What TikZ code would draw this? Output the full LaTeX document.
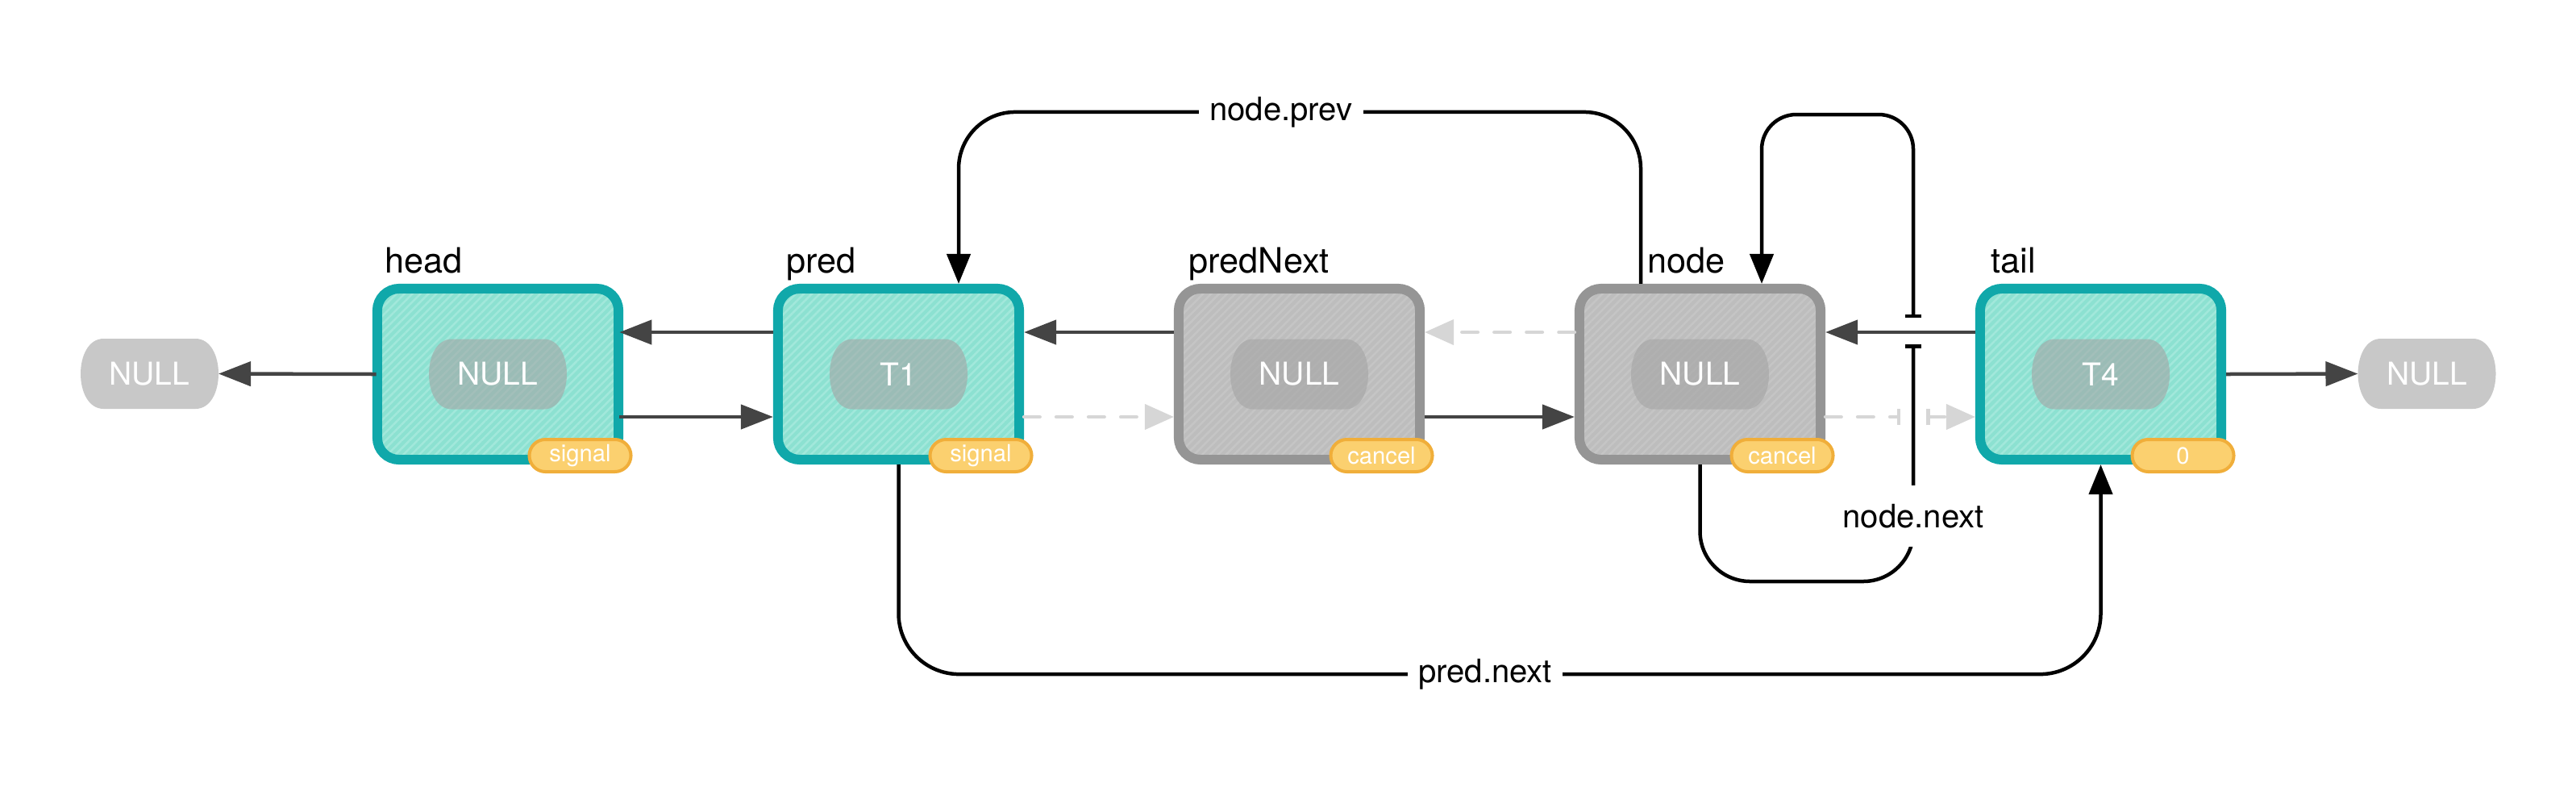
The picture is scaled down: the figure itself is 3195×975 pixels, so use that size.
\documentclass[tikz,border=0pt]{standalone}
\usepackage{fontspec}
\setmainfont{TeX Gyre Heros}
\usetikzlibrary{arrows.meta,shapes.misc,patterns.meta,calc}
\definecolor{tealB}{HTML}{10A8AA}
\definecolor{tealF}{HTML}{8CE1D1}
\definecolor{tealS}{HTML}{A2E8DB}
\definecolor{grayB}{HTML}{959595}
\definecolor{grayF}{HTML}{BDBDBD}
\definecolor{grayS}{HTML}{C5C5C5}
\definecolor{pillG}{HTML}{A4A4A4}
\definecolor{nullG}{HTML}{C8C8C8}
\definecolor{badgeB}{HTML}{F0AE3A}
\definecolor{badgeF}{HTML}{FBD06F}
\definecolor{darkA}{HTML}{444444}
\definecolor{lightA}{HTML}{D6D6D6}
\newcommand\lblfnt{\fontsize{11.4pt}{13pt}\selectfont}
\newcommand\namefnt{\fontsize{12.3pt}{14pt}\selectfont}
\newcommand\pillfnt{\fontsize{11.1pt}{13pt}\selectfont}
\newcommand\badgefnt{\fontsize{8.3pt}{10pt}\selectfont}
% pill outline with flattened ends, centred at (#1,#2), drawn with options #3
\newcommand\pillbg[3]{\path[#3] (#1-57,#2-43.5) -- (#1+57,#2-43.5)
  .. controls (#1+95,#2-43.5) and (#1+95,#2+43.5) .. (#1+57,#2+43.5)
  -- (#1-57,#2+43.5)
  .. controls (#1-95,#2+43.5) and (#1-95,#2-43.5) .. (#1-57,#2-43.5) -- cycle;}
\begin{document}
\begin{tikzpicture}[x=0.01cm,y=-0.01cm,
  dtip/.tip={Triangle[length=0.40cm,width=0.30cm]},
  ltip/.tip={Triangle[length=0.36cm,width=0.31cm]},
  ktip/.tip={Triangle[length=0.37cm,width=0.29cm]},
  jbar/.tip={Bar[width=0.20cm]},
  listbox/.style={rectangle, rounded corners=0.27cm, minimum width=2.99cm,
    minimum height=2.12cm, line width=0.12cm, inner sep=0pt},
  livebox/.style={listbox, draw=tealB, preaction={fill=tealF},
    pattern={Lines[angle=45,distance=0.07cm,line width=0.025cm]}, pattern color=tealS},
  deadbox/.style={listbox, draw=grayB, preaction={fill=grayF},
    pattern={Lines[angle=45,distance=0.07cm,line width=0.025cm]}, pattern color=grayS},
  inpillfill/.style={fill=pillG, fill opacity=0.6},
  nullfill/.style={fill=nullG},
  pilltxt/.style={rectangle, minimum width=1.71cm, minimum height=0.87cm,
    inner sep=0pt, outer sep=0pt, text=white, font=\pillfnt},
  badge/.style={rounded rectangle, minimum width=1.26cm, minimum height=0.40cm,
    inner sep=0pt, line width=0.04cm, draw=badgeB, fill=badgeF,
    text=white, font=\badgefnt},
  namelbl/.style={anchor=base west, font=\namefnt, inner sep=0pt},
  ptrlbl/.style={fill=white, font=\lblfnt, inner xsep=0.13cm, inner ysep=0.23cm},
  darr/.style={draw=darkA, line width=0.045cm, -dtip},
  larr/.style={draw=lightA, line width=0.045cm, dash pattern=on 0.195cm off 0.205cm,
    line cap=round, -ltip},
  blk/.style={draw=black, line width=0.045cm}
]
\useasboundingbox (0,0) rectangle (3195,975);

% list nodes
\node[livebox] (head) at (617.5,464) {};
\node[livebox] (pred) at (1114.5,464) {};
\node[deadbox] (predNext) at (1611.5,464) {};
\node[deadbox] (nd) at (2108.5,464) {};
\node[livebox] (tail) at (2605.5,464) {};

% values
\pillbg{617.5}{464}{inpillfill}
\pillbg{1114.5}{464}{inpillfill}
\pillbg{1611.5}{464}{inpillfill}
\pillbg{2108.5}{464}{inpillfill}
\pillbg{2605.5}{464}{inpillfill}
\node[pilltxt] (headv) at (head.center) {NULL};
\node[pilltxt] (predv) at (pred.center) {T1};
\node[pilltxt] (predNextv) at (predNext.center) {NULL};
\node[pilltxt] (ndv) at (nd.center) {NULL};
\node[pilltxt] (tailv) at (tail.center) {T4};

% status badges
\node[badge] (headb) at ($(head.center)+(102,101)$) {signal};
\node[badge] (predb) at ($(pred.center)+(102,101)$) {signal};
\node[badge] (predNextb) at ($(predNext.center)+(102,101)$) {cancel};
\node[badge] (ndb) at ($(nd.center)+(102,101)$) {cancel};
\node[badge] (tailb) at ($(tail.center)+(102,101)$) {0};

% NULL ends
\pillbg{185.5}{463.5}{nullfill}
\pillbg{3010}{463.5}{nullfill}
\node[pilltxt] (nullL) at (185.5,463.5) {NULL};
\node[pilltxt] (nullR) at (3010,463.5) {NULL};

% names
\node[namelbl] (headl) at (477,338) {head};
\node[namelbl] (predl) at (975,338) {pred};
\node[namelbl] (predNextl) at (1474,338) {predNext};
\node[namelbl] (ndl) at (2043,338) {node};
\node[namelbl] (taill) at (2469,338) {tail};

% horizontal links
\draw[darr] (head.west) -- (nullL.east);
\draw[darr] ($(pred.west)+(0,-52)$) -- ($(head.east)+(0,-52)$);
\draw[darr] ($(head.east)+(0,53)$) -- ($(pred.west)+(0,53)$);
\draw[darr] ($(predNext.west)+(0,-52)$) -- ($(pred.east)+(0,-52)$);
\draw[larr] ($(pred.east)+(0,53)$) -- ($(predNext.west)+(0,53)$);
\draw[larr] ($(nd.west)+(0,-52)$) -- ($(predNext.east)+(0,-52)$);
\draw[darr] ($(predNext.east)+(0,53)$) -- ($(nd.west)+(0,53)$);
\draw[darr] ($(tail.west)+(0,-52)$) -- ($(nd.east)+(0,-52)$);
\coordinate (jl) at (2357,517);
\coordinate (jr) at (2389,517);
\draw[larr, -jbar] ($(nd.east)+(0,53)$) -- (jl);
\draw[larr, jbar-ltip] (jr) -- ($(tail.west)+(0,53)$);
\draw[darr] (tail.east) -- (nullR.west);

% node.prev
\draw[blk, rounded corners=0.7cm, -ktip] ($(nd.north)+(-73.5,0)$) -- ++(0,-213) -| ($(pred.north)+(74.5,0)$);
\node[ptrlbl] (prevl) at (1589,139) {node.prev};

% pred.next
\draw[blk, rounded corners=0.75cm, -ktip] (pred.south) -- ++(0,260) -| (tail.south);
\node[ptrlbl] (predNextLbl) at (1842,836) {pred.next};

% node.next (self loop, jumping over tail->node link)
\coordinate (nxlow) at (2373,721);
\coordinate (nxA) at (2373,427);
\coordinate (nxB) at (2373,394);
\coordinate (nxtop) at (2373,142);
\draw[blk, rounded corners=0.62cm, -jbar] (nd.south) |- (nxlow) -- (nxA);
\node[ptrlbl] (nextl) at (2373,640) {node.next};
\draw[blk, rounded corners=0.43cm, jbar-ktip] (nxB) -- (nxtop) -| ($(nd.north)+(76.5,0)$);
\end{tikzpicture}
\end{document}
